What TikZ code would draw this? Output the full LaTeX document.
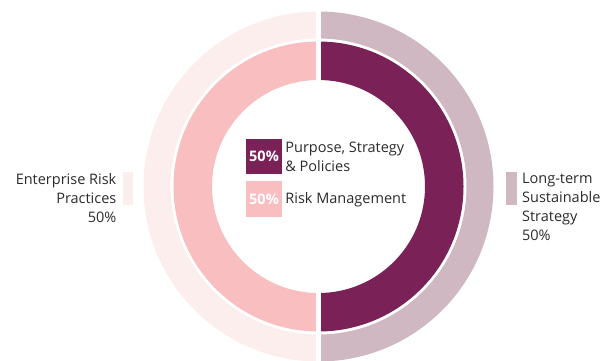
\documentclass[tikz,border=0pt]{standalone}
\usepackage{fontspec}
\setmainfont{Open Sans}
\usetikzlibrary{positioning}

\definecolor{plum}{HTML}{7A2257}
\definecolor{rose}{HTML}{F8BEC0}
\definecolor{blush}{HTML}{FCEEEC}
\definecolor{mauve}{HTML}{D0B8C3}
\definecolor{ink}{HTML}{2B2B2B}

\begin{document}
\begin{tikzpicture}[
    x=1pt, y=1pt,
    every node/.style={font=\fontsize{14.5}{19}\selectfont, text=ink},
    swatch/.style={rectangle, inner sep=0pt, minimum width=36pt, minimum height=35pt,
                   font=\fontsize{14.5}{19}\selectfont\bfseries, text=white},
    keybar/.style={rectangle, inner sep=0pt, minimum width=10.5pt, minimum height=33pt},
    caption/.style={inner sep=0pt}
]
\useasboundingbox (0,0) rectangle (610,360);

% Rings
\coordinate (c) at (318.5,173.5);
\fill[blush] ([shift={(90:175)}]c) arc[start angle=90, end angle=270, radius=175]
    -- ([shift={(270:148)}]c) arc[start angle=270, end angle=90, radius=148] -- cycle;
\fill[mauve] ([shift={(-90:175)}]c) arc[start angle=-90, end angle=90, radius=175]
    -- ([shift={(90:148)}]c) arc[start angle=90, end angle=-90, radius=148] -- cycle;
\fill[rose] ([shift={(90:145)}]c) arc[start angle=90, end angle=270, radius=145]
    -- ([shift={(270:106.5)}]c) arc[start angle=270, end angle=90, radius=106.5] -- cycle;
\fill[plum] ([shift={(-90:145)}]c) arc[start angle=-90, end angle=90, radius=145]
    -- ([shift={(90:106.5)}]c) arc[start angle=90, end angle=-90, radius=106.5] -- cycle;
\draw[white, line width=4.5pt] ([yshift=-180]c) -- ([yshift=190]c);

% Legend in the middle
\node[swatch, fill=plum] (sw_purpose) at (264,203.5) {50\%};
\node[swatch, fill=rose, minimum height=36pt, below=7pt of sw_purpose] (sw_risk) {50\%};
\node[caption, align=left, right=3pt of sw_purpose] (cap_purpose) {Purpose, Strategy\\\& Policies};
\node[caption, right=3pt of sw_risk] (cap_risk) {Risk Management};

% Outer labels
\node[keybar, fill=blush] (bar_left) at (128,171.5) {};
\node[caption, align=right, anchor=east] (lab_left) at ([xshift=-6pt,yshift=-10]bar_left.west) {Enterprise Risk\\Practices\\50\%};
\node[keybar, fill=mauve] (bar_right) at (511.5,171.5) {};
\node[caption, align=left, anchor=west] (lab_right) at ([xshift=5pt,yshift=-18]bar_right.east) {Long-term\\Sustainable\\Strategy\\50\%};

\end{tikzpicture}
\end{document}
